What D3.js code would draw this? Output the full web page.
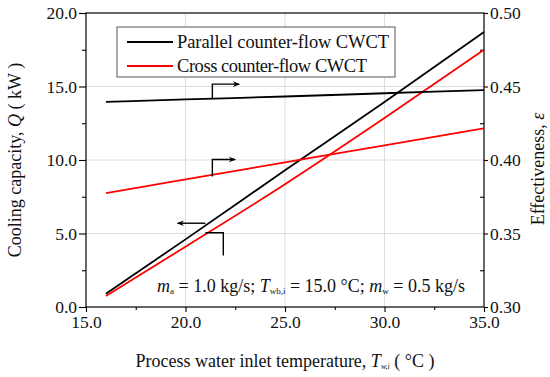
<!DOCTYPE html>
<html>
<head>
<meta charset="utf-8">
<script src="https://cdn.jsdelivr.net/npm/d3@7"></script>
<style>
  body { margin: 0; background: #fff; }
  svg text { font-family: "Liberation Serif", "DejaVu Serif", serif; fill: #111; }
</style>
</head>
<body>
<div id="chart"></div>
<script>
// inlet water temperature (°C)
var temps = [16, 20, 25, 30, 35];
// cooling capacity (kW)
var qParallel = [0.9, 4.6, 9.3, 13.95, 18.7];
var qCross = [0.75, 4.1, 8.35, 12.85, 17.5];
// effectiveness
var effParallel = [0.4395, 0.4412, 0.4432, 0.4454, 0.4476];
var effCross = [0.3775, 0.3868, 0.3984, 0.4100, 0.4215];

var seriesNames = ["Parallel counter-flow CWCT", "Cross counter-flow CWCT"];
var seriesColors = ["#000000", "#ff0000"];

var xTicks = [15, 20, 25, 30, 35];
var qTicks = [0, 5, 10, 15, 20];
var effTicks = [0.30, 0.35, 0.40, 0.45, 0.50];

var width = 550,
    height = 377,
    margin = {top: 13, right: 66, bottom: 70, left: 86};

var svg = d3.select("#chart").append("svg")
    .attr("width", width)
    .attr("height", height);

var x = d3.scaleLinear().domain([15, 35]).range([margin.left, width - margin.right]);
var y = d3.scaleLinear().domain([0, 20]).range([height - margin.bottom, margin.top]);
var y2 = d3.scaleLinear().domain([0.30, 0.50]).range([height - margin.bottom, margin.top]);

var x0 = margin.left, x1 = width - margin.right,
    yb = height - margin.bottom, yt = margin.top;

// grid
svg.append("g").selectAll("line").data(xTicks.slice(1, -1)).join("line")
    .attr("x1", d => x(d)).attr("x2", d => x(d))
    .attr("y1", yt).attr("y2", yb)
    .attr("stroke", "#dcdcdc").attr("stroke-width", 1);
svg.append("g").selectAll("line").data(qTicks.slice(1, -1)).join("line")
    .attr("x1", x0).attr("x2", x1)
    .attr("y1", d => y(d)).attr("y2", d => y(d))
    .attr("stroke", "#dcdcdc").attr("stroke-width", 1);

// axes
var xAxis = svg.append("g").attr("transform", "translate(0," + yb + ")")
    .call(d3.axisBottom(x).tickValues(xTicks).tickFormat(d3.format(".1f")).tickSize(5).tickPadding(1));
var xMinor = svg.append("g").attr("transform", "translate(0," + yb + ")")
    .call(d3.axisBottom(x).tickValues([17.5, 22.5, 27.5, 32.5]).tickFormat("").tickSize(3));

var yAxis = svg.append("g").attr("transform", "translate(" + x0 + ",0)")
    .call(d3.axisLeft(y).tickValues(qTicks).tickFormat(d3.format(".1f")).tickSize(7).tickPadding(2));
var yMinor = svg.append("g").attr("transform", "translate(" + x0 + ",0)")
    .call(d3.axisLeft(y).tickValues([2.5, 7.5, 12.5, 17.5]).tickFormat("").tickSize(4));

var y2Axis = svg.append("g").attr("transform", "translate(" + x1 + ",0)")
    .call(d3.axisRight(y2).tickValues(effTicks).tickFormat(d3.format(".2f")).tickSize(4).tickPadding(2));
var y2Minor = svg.append("g").attr("transform", "translate(" + x1 + ",0)")
    .call(d3.axisRight(y2).tickValues([0.325, 0.375, 0.425, 0.475]).tickFormat("").tickSize(-4));

[xAxis, xMinor, yAxis, yMinor, y2Axis, y2Minor].forEach(function(a) {
  a.attr("font-family", "Liberation Serif").attr("font-size", 17.5);
  a.select(".domain").remove();
  a.selectAll("line").attr("stroke", "#000").attr("stroke-width", 1.1);
  a.selectAll("text").attr("font-size", 17.5).attr("fill", "#111")
      .attr("font-family", "Liberation Serif");
});
xAxis.selectAll("text").attr("dy", "0.85em");

// frame
svg.append("rect")
    .attr("x", x0).attr("y", yt)
    .attr("width", x1 - x0).attr("height", yb - yt)
    .attr("fill", "none").attr("stroke", "#000").attr("stroke-width", 1.2);

// lines
var line = function(vals, scale) {
  return d3.line().curve(d3.curveMonotoneX)
      .x((d, i) => x(temps[i])).y(d => scale(d))(vals);
};
var curves = [
  {v: qParallel, s: y, c: 0},
  {v: qCross, s: y, c: 1},
  {v: effParallel, s: y2, c: 0},
  {v: effCross, s: y2, c: 1}
];
svg.append("g").selectAll("path").data(curves).join("path")
    .attr("d", d => line(d.v, d.s))
    .attr("fill", "none")
    .attr("stroke", d => seriesColors[d.c])
    .attr("stroke-width", 1.8);

// arrow markers
var defs = svg.append("defs");
defs.append("marker")
    .attr("id", "arrow")
    .attr("viewBox", "0 0 10 10")
    .attr("refX", 9).attr("refY", 5)
    .attr("markerWidth", 9).attr("markerHeight", 7)
    .attr("markerUnits", "userSpaceOnUse")
    .attr("orient", "auto")
  .append("path")
    .attr("d", "M0,1 L10,5 L0,9 L3,5 Z")
    .attr("fill", "#000");

function pointer(pts, stroke, arrow) {
  svg.append("path")
      .attr("d", d3.line()(pts))
      .attr("fill", "none")
      .attr("stroke", stroke)
      .attr("stroke-width", 1.4)
      .attr("marker-end", arrow ? "url(#arrow)" : null);
}
// black effectiveness -> right axis
pointer([[x(21.35), y2(0.4413)], [x(21.35), y2(0.4516)], [x(22.7), y2(0.4516)]], "#000", true);
// red effectiveness -> right axis
pointer([[x(21.35), y2(0.3888)], [x(21.35), y2(0.4003)], [x(22.5), y2(0.4003)]], "#000", true);
// black capacity -> left axis
pointer([[x(21.0), y(5.7)], [x(19.6), y(5.7)]], "#000", true);
// red capacity
pointer([[x(21.0), y(5.05)], [x(21.9), y(5.05)], [x(21.9), y(3.5)]], "#000", false);

// legend
var lg = svg.append("g");
lg.append("rect")
    .attr("x", 117).attr("y", 27)
    .attr("width", 278).attr("height", 50)
    .attr("fill", "#fff").attr("stroke", "#555").attr("stroke-width", 1);
seriesNames.forEach(function(name, i) {
  var ly = 42 + i * 24;
  lg.append("line")
      .attr("x1", 127).attr("x2", 173)
      .attr("y1", ly).attr("y2", ly)
      .attr("stroke", seriesColors[i]).attr("stroke-width", 1.8);
  lg.append("text")
      .attr("x", 177).attr("y", ly + 6)
      .attr("font-size", 18.5)
      .attr("textLength", i === 0 ? 212 : 190)
      .text(name);
});

// operating conditions
var note = svg.append("text")
    .attr("x", 157).attr("y", 292)
    .attr("font-size", 18);
function addSub(t, main, sub, after) {
  t.append("tspan").attr("font-style", "italic").text(main);
  t.append("tspan").attr("font-size", 9).attr("baseline-shift", "-25%").text(sub);
  t.append("tspan").text(after);
}
addSub(note, "m", "a", " = 1.0 kg/s; ");
addSub(note, "T", "wb,i", " = 15.0 °C; ");
addSub(note, "m", "w", " = 0.5 kg/s");

// axis titles
var lt = svg.append("text")
    .attr("transform", "translate(21," + ((yt + yb) / 2) + ") rotate(-90)")
    .attr("text-anchor", "middle")
    .attr("font-size", 18);
lt.append("tspan").text("Cooling capacity, ");
lt.append("tspan").attr("font-style", "italic").text("Q");
lt.append("tspan").text(" ( kW )");

var rt = svg.append("text")
    .attr("transform", "translate(544," + ((yt + yb) / 2 + 9) + ") rotate(-90)")
    .attr("text-anchor", "middle")
    .attr("font-size", 18);
rt.append("tspan").text("Effectiveness, ");
rt.append("tspan").attr("font-style", "italic").text("ε");

var bt = svg.append("text")
    .attr("x", (x0 + x1) / 2).attr("y", 367)
    .attr("text-anchor", "middle")
    .attr("font-size", 18);
bt.append("tspan").text("Process water inlet temperature, ");
bt.append("tspan").attr("font-style", "italic").text("T");
bt.append("tspan").attr("font-size", 8).attr("font-style", "italic").attr("baseline-shift", "-25%").text("w,i");
bt.append("tspan").text(" ( °C )");
</script>
</body>
</html>
